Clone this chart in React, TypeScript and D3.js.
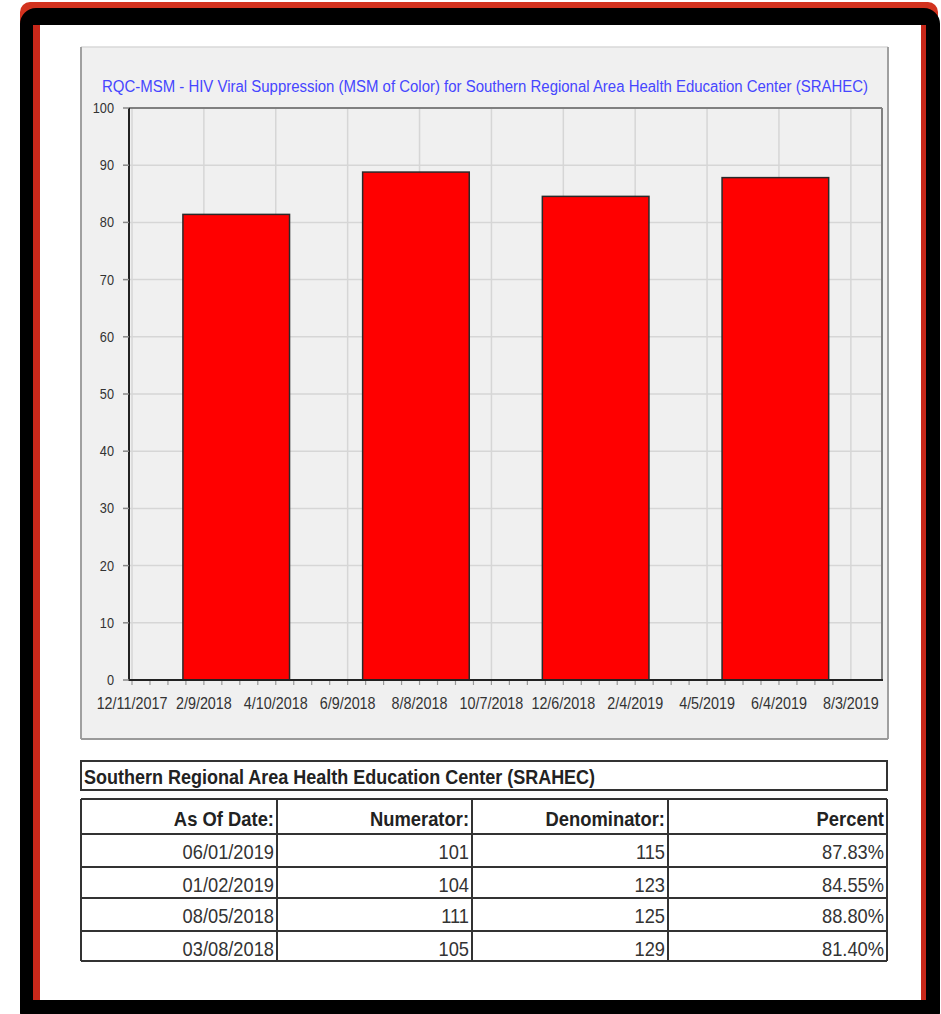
import * as d3 from "d3";

// Chart values
const asOfDates = ["06/01/2019", "01/02/2019", "08/05/2018", "03/08/2018"];
const numerators = [101, 104, 111, 105];
const denominators = [115, 123, 125, 129];
const percents = [87.83, 84.55, 88.8, 81.4];
const xTickLabels = [
  "12/11/2017", "2/9/2018", "4/10/2018", "6/9/2018", "8/8/2018", "10/7/2018",
  "12/6/2018", "2/4/2019", "4/5/2019", "6/4/2019", "8/3/2019",
];
const yTicks = [0, 10, 20, 30, 40, 50, 60, 70, 80, 90, 100];

const chartTitle =
  "RQC-MSM - HIV Viral Suppression (MSM of Color) for Southern Regional Area Health Education Center (SRAHEC)";
const tableTitle = "Southern Regional Area Health Education Center (SRAHEC)";
const tableHeaders = ["As Of Date:", "Numerator:", "Denominator:", "Percent"];

const FONT = "'Liberation Sans', Arial, sans-serif";

// narrow-looking text: squeeze horizontally around the anchor point
function SText({ x, y, sx, anchor = "start", size, weight = "normal", fill = "#333", children }: any) {
  return (
    <text transform={`translate(${x},${y}) scale(${sx},1)`} textAnchor={anchor}
      fontSize={size} fontWeight={weight} fill={fill}>{children}</text>
  );
}

export default function App() {
  const width = 941;
  const height = 1014;
  const plot = { left: 129, right: 882, top: 108, bottom: 680 };

  const parseMDY = d3.timeParse("%m/%d/%Y");

  const x = d3.scaleTime()
    .domain([new Date(2017, 11, 8, 12), new Date(2019, 7, 29)])
    .range([plot.left, plot.right]);

  const y = d3.scaleLinear()
    .domain([0, 100])
    .range([plot.bottom, plot.top]);

  const tickDates = xTickLabels.map(d => parseMDY(d) as Date);
  // minor ticks every 15 days
  const minorTicks = d3.range(0, 40)
    .map(i => d3.timeDay.offset(tickDates[0], i * 15))
    .filter(d => x(d) <= plot.right);

  const bars = asOfDates.map((d, i) => ({ date: parseMDY(d) as Date, value: percents[i] }));
  const barEdges = (d: Date) => [x(d3.timeHour.offset(d, -44.5 * 24)), x(d3.timeHour.offset(d, 44.5 * 24))];

  // table geometry
  const tLeft = 81;
  const tRight = 887;
  const colRights = [277, 472, 668, 887];
  const rowLines = [799, 834, 867, 898, 931, 961];
  const rowCells = asOfDates.map((d, i) => [d, String(numerators[i]), String(denominators[i]), percents[i].toFixed(2) + "%"]);

  return (
    <svg width={width} height={height} style={{ position: "absolute", left: 0, top: 0 }} fontFamily={FONT}>
      {/* frame */}
      <rect x={20} y={2} width={918} height={1012} rx={10} fill="#d2321e" />
      <rect x={20} y={8} width={920} height={1020} rx={16} fill="#000" />
      <rect x={33} y={25} width={893} height={975} fill="#c8281a" />
      <rect x={40} y={25} width={881} height={975} fill="#fff" />

      {/* chart panel */}
      <rect x={81} y={47} width={807} height={692} fill="#f0f0f0" />
      <line x1={81} x2={888} y1={47} y2={47} stroke="#d8d8d8" strokeWidth={1.5} />
      <line x1={81} x2={81} y1={47} y2={739} stroke="#a0a0a0" strokeWidth={2} />
      <line x1={888} x2={888} y1={47} y2={739} stroke="#a0a0a0" strokeWidth={2} />
      <line x1={81} x2={888} y1={739} y2={739} stroke="#9a9a9a" strokeWidth={2} />

      <text x={485} y={92} textAnchor="middle" fontSize={16} fill="#4646ff"
        textLength={766} lengthAdjust="spacingAndGlyphs">{chartTitle}</text>

      {/* grid */}
      {yTicks.map(t => (
        <line key={"gy" + t} x1={plot.left} x2={plot.right} y1={y(t)} y2={y(t)} stroke="#d6d6d6" strokeWidth={1.5} />
      ))}
      {tickDates.map((d, i) => (
        <line key={"gx" + i} x1={x(d)} x2={x(d)} y1={plot.top} y2={plot.bottom} stroke="#d6d6d6" strokeWidth={1.5} />
      ))}

      {/* bars */}
      {bars.map((b, i) => {
        const [x0, x1] = barEdges(b.date);
        return (
          <rect key={"bar" + i} x={x0} y={y(b.value)} width={x1 - x0} height={y(0) - y(b.value)}
            fill="#ff0000" stroke="#2a2a2a" strokeWidth={1.5} />
        );
      })}

      {/* plot border */}
      <line x1={plot.left} x2={plot.right} y1={plot.top} y2={plot.top} stroke="#808080" strokeWidth={2} />
      <line x1={plot.right} x2={plot.right} y1={plot.top} y2={plot.bottom} stroke="#808080" strokeWidth={2} />
      <line x1={plot.left} x2={plot.left} y1={plot.top} y2={plot.bottom + 1} stroke="#222" strokeWidth={2} />
      <line x1={plot.left - 1} x2={plot.right + 1} y1={plot.bottom} y2={plot.bottom} stroke="#222" strokeWidth={2} />

      {/* y axis */}
      {yTicks.map(t => (
        <g key={"yt" + t}>
          <line x1={plot.left - 6} x2={plot.left} y1={y(t)} y2={y(t)} stroke="#888" strokeWidth={1.5} />
          <SText x={plot.left - 15} y={y(t) + 5} sx={0.85} anchor="end" size={15}>{t}</SText>
        </g>
      ))}

      {/* x axis */}
      {minorTicks.map((d, i) => (
        <line key={"mt" + i} x1={x(d)} x2={x(d)} y1={plot.bottom + 1} y2={plot.bottom + 5} stroke="#999" strokeWidth={1.2} />
      ))}
      {tickDates.map((d, i) => (
        <SText key={"xl" + i} x={x(d)} y={709} sx={0.87} anchor="middle" size={16.5}>{xTickLabels[i]}</SText>
      ))}

      {/* table */}
      <rect x={tLeft} y={761} width={tRight - tLeft} height={29} fill="#fff" stroke="#333" strokeWidth={2} />
      <SText x={84} y={784} sx={0.9} size={20} weight="bold" fill="#222">{tableTitle}</SText>
      {rowLines.map((ly, i) => (
        <line key={"rl" + i} x1={tLeft} x2={tRight} y1={ly} y2={ly} stroke="#333" strokeWidth={2} />
      ))}
      <line x1={tLeft} x2={tLeft} y1={rowLines[0]} y2={rowLines[rowLines.length - 1]} stroke="#333" strokeWidth={2} />
      {colRights.map((cx, i) => (
        <line key={"cl" + i} x1={cx} x2={cx} y1={rowLines[0]} y2={rowLines[rowLines.length - 1]} stroke="#333" strokeWidth={2} />
      ))}
      {tableHeaders.map((h, i) => (
        <SText key={"th" + i} x={colRights[i] - 3} y={826} sx={0.92} anchor="end" size={20} weight="bold" fill="#222">{h}</SText>
      ))}
      {rowCells.map((row, r) =>
        row.map((c, ci) => (
          <SText key={"td" + r + "-" + ci} x={colRights[ci] - 3} y={rowLines[r + 1] + 25} sx={0.87} anchor="end" size={21}>{c}</SText>
        ))
      )}
    </svg>
  );
}
